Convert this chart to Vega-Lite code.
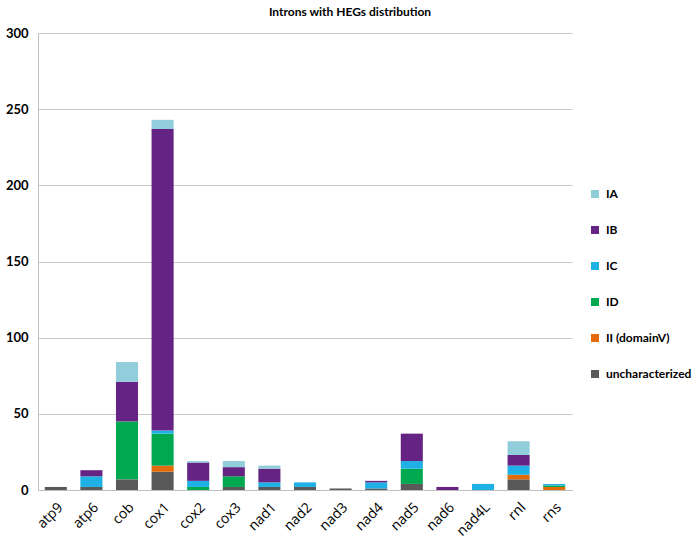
{
  "$schema": "https://vega.github.io/schema/vega-lite/v6.json",
  "autosize": "none",
  "width": 534,
  "height": 457,
  "padding": {"left": 38, "top": 33, "right": 128, "bottom": 53},
  "background": "white",
  "title": {"text": "Introns with HEGs distribution", "font": "Lato", "fontSize": 12, "fontWeight": "bold", "color": "#000000", "anchor": "middle", "frame": "group", "offset": 8, "dx": 45},
  "data": {"values": [
    {"gene": "atp9", "type": "uncharacterized", "n": 2},
    {"gene": "atp6", "type": "uncharacterized", "n": 2},
    {"gene": "atp6", "type": "IC", "n": 7},
    {"gene": "atp6", "type": "IB", "n": 4},
    {"gene": "cob", "type": "uncharacterized", "n": 7},
    {"gene": "cob", "type": "ID", "n": 38},
    {"gene": "cob", "type": "IB", "n": 26},
    {"gene": "cob", "type": "IA", "n": 13},
    {"gene": "cox1", "type": "uncharacterized", "n": 12},
    {"gene": "cox1", "type": "II (domainV)", "n": 4},
    {"gene": "cox1", "type": "ID", "n": 21},
    {"gene": "cox1", "type": "IC", "n": 2},
    {"gene": "cox1", "type": "IB", "n": 198},
    {"gene": "cox1", "type": "IA", "n": 6},
    {"gene": "cox2", "type": "ID", "n": 2},
    {"gene": "cox2", "type": "IC", "n": 4},
    {"gene": "cox2", "type": "IB", "n": 12},
    {"gene": "cox2", "type": "IA", "n": 1},
    {"gene": "cox3", "type": "uncharacterized", "n": 2},
    {"gene": "cox3", "type": "ID", "n": 7},
    {"gene": "cox3", "type": "IB", "n": 6},
    {"gene": "cox3", "type": "IA", "n": 4},
    {"gene": "nad1", "type": "uncharacterized", "n": 2},
    {"gene": "nad1", "type": "IC", "n": 3},
    {"gene": "nad1", "type": "IB", "n": 9},
    {"gene": "nad1", "type": "IA", "n": 2},
    {"gene": "nad2", "type": "uncharacterized", "n": 2},
    {"gene": "nad2", "type": "IC", "n": 3},
    {"gene": "nad3", "type": "uncharacterized", "n": 1},
    {"gene": "nad4", "type": "uncharacterized", "n": 1},
    {"gene": "nad4", "type": "IC", "n": 4},
    {"gene": "nad4", "type": "IB", "n": 1},
    {"gene": "nad5", "type": "uncharacterized", "n": 4},
    {"gene": "nad5", "type": "ID", "n": 10},
    {"gene": "nad5", "type": "IC", "n": 5},
    {"gene": "nad5", "type": "IB", "n": 18},
    {"gene": "nad6", "type": "IB", "n": 2},
    {"gene": "nad4L", "type": "IC", "n": 4},
    {"gene": "rnl", "type": "uncharacterized", "n": 7},
    {"gene": "rnl", "type": "II (domainV)", "n": 3},
    {"gene": "rnl", "type": "IC", "n": 6},
    {"gene": "rnl", "type": "IB", "n": 7},
    {"gene": "rnl", "type": "IA", "n": 9},
    {"gene": "rns", "type": "II (domainV)", "n": 2},
    {"gene": "rns", "type": "ID", "n": 1},
    {"gene": "rns", "type": "IC", "n": 1}
  ]},
  "mark": {"type": "bar", "stroke": null},
  "encoding": {
    "x": {
      "field": "gene", "type": "nominal",
      "sort": ["atp9", "atp6", "cob", "cox1", "cox2", "cox3", "nad1", "nad2", "nad3", "nad4", "nad5", "nad6", "nad4L", "rnl", "rns"],
      "scale": {"paddingInner": 0.38, "paddingOuter": 0.19},
      "axis": {"title": null, "labelAngle": -45, "labelFont": "Open Sans", "labelFontSize": 14, "labelColor": "#000000", "ticks": false, "labelPadding": 10, "domainColor": "#bfbfbf", "grid": false}
    },
    "y": {
      "field": "n", "type": "quantitative", "aggregate": "sum",
      "scale": {"domain": [0, 300], "nice": false},
      "axis": {"title": null, "values": [0, 50, 100, 150, 200, 250, 300], "labelFont": "Lato", "labelFontSize": 13, "labelFontWeight": "bold", "labelColor": "#000000", "ticks": false, "labelPadding": 10, "domainColor": "#bfbfbf", "gridColor": "#c8c8c8"}
    },
    "color": {
      "field": "type", "type": "nominal",
      "scale": {"domain": ["IA", "IB", "IC", "ID", "II (domainV)", "uncharacterized"], "range": ["#92cddc", "#652483", "#1fb0e6", "#00a84f", "#e36c09", "#595959"]},
      "legend": {"title": null, "orient": "none", "legendX": 551, "legendY": 155, "symbolType": "square", "symbolSize": 64, "symbolStrokeWidth": 0, "labelFont": "Lato", "labelFontSize": 12, "labelFontWeight": "bold", "labelColor": "#000000", "labelLimit": 0, "rowPadding": 24, "labelOffset": 5}
    },
    "order": {"field": "type", "sort": "descending"}
  },
  "config": {"view": {"stroke": null}}
}
